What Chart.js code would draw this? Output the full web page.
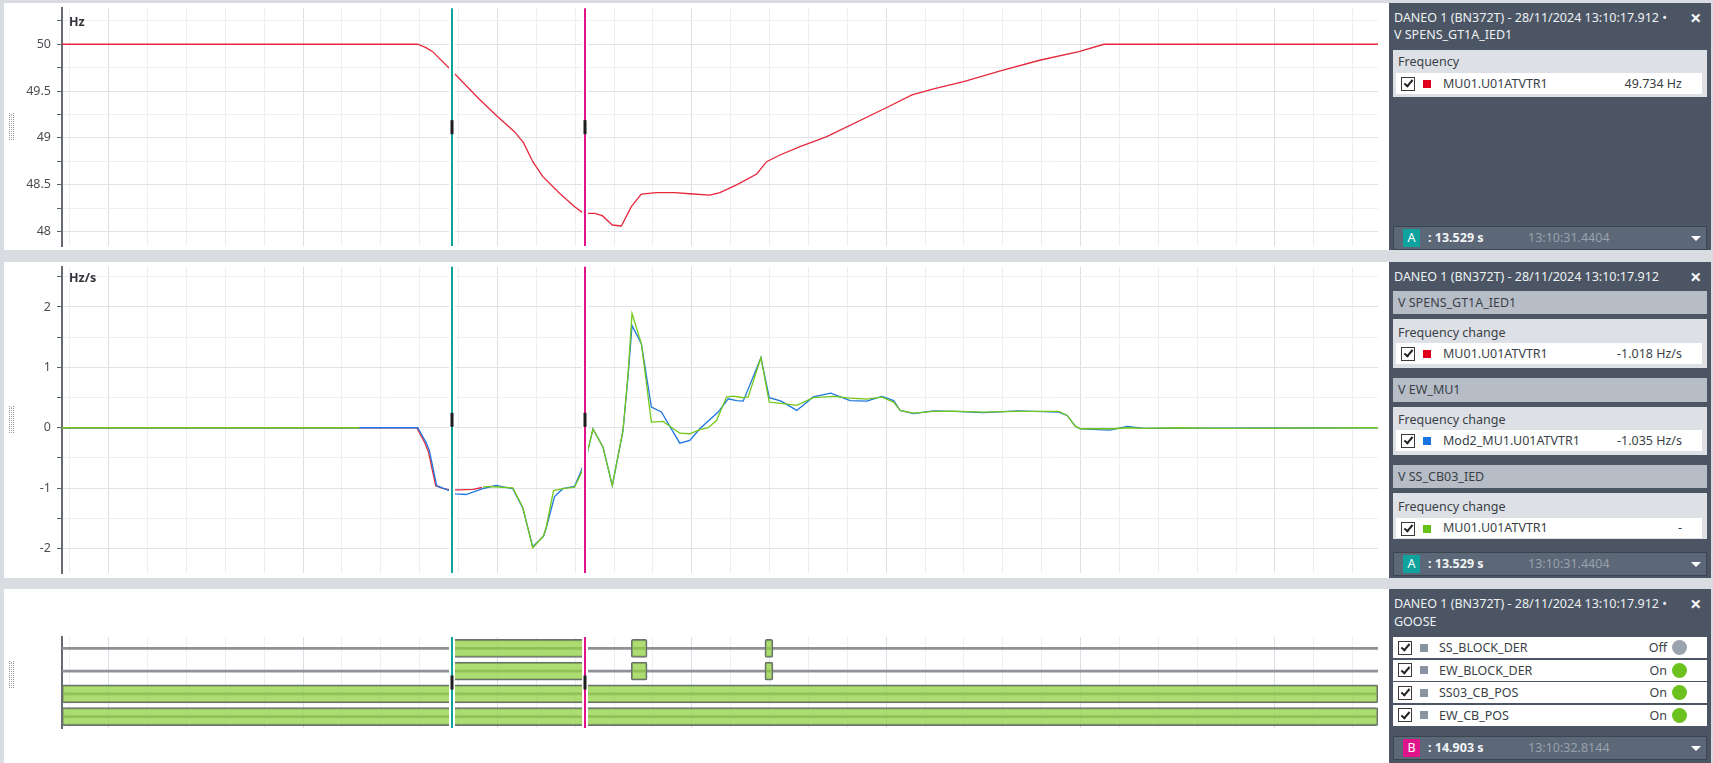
<!DOCTYPE html>
<html>
<head>
<meta charset="utf-8">
<title>DANEO frequency view</title>
<script src="https://cdn.jsdelivr.net/npm/chart.js@4.4.1/dist/chart.umd.min.js"></script>
<style>
  body { margin:0; width:1713px; height:763px; overflow:hidden; position:relative;
         background:#d9dce1; font-family:"Noto Sans", sans-serif; font-size:12.5px; }
  .panel { position:absolute; left:4px; width:1385px; background:#fff; }
  .panel canvas { position:absolute; left:0; top:0; }
  .unit { position:absolute; left:65px; font-weight:bold; color:#33363b; line-height:16px; }
  .grip { position:absolute; left:5px; width:3px; height:27px;
          border-left:1px dotted #8f949a; border-right:1px dotted #8f949a; }
  .grip::after { content:''; position:absolute; left:1px; top:1px; height:26px; border-left:1px dotted #a9adb3; }
  .side { position:absolute; left:1389px; width:322px; background:#4b5563; color:#eef1f4; }
  .title { position:absolute; left:5px; top:6px; line-height:17px; white-space:nowrap; }
  .close { position:absolute; left:301px; top:4px; font-size:20px; line-height:22px; font-weight:bold; color:#f4f6f8; }
  .hdr { position:absolute; left:4px; width:314px; height:23px; line-height:23px; padding-left:5px;
         box-sizing:border-box; background:#b6bdc7; color:#3a3f46; }
  .box { position:absolute; left:4px; width:314px; background:#dde0e5; }
  .lbl { position:absolute; left:5px; line-height:18px; color:#3a3f46; }
  .row { position:absolute; left:3px; width:306px; height:21px; line-height:21px; background:#fff; color:#3a3f46; }
  .grow { position:absolute; left:4px; width:314px; height:21px; line-height:21px; background:#fff; color:#3a3f46; }
  .cb { position:absolute; left:5px; top:3.5px; width:12px; height:12px; border:1px solid #3a3a3a; background:#fff; }
  .cb::after { content:''; position:absolute; left:3.5px; top:0.5px; width:3px; height:7px;
               border:solid #222; border-width:0 2px 2px 0; transform:rotate(40deg); }
  .sq { position:absolute; left:27px; top:6.5px; width:8px; height:8px; }
  .nm { position:absolute; left:47px; }
  .val { position:absolute; right:20px; }
  .state { position:absolute; right:40px; }
  .dot { position:absolute; left:279px; top:3px; width:15px; height:15px; border-radius:50%; }
  .cbar { position:absolute; left:4px; width:314px; height:24px; box-sizing:border-box;
          background:#5c6877; border:1px solid #3c4450; }
  .badge { position:absolute; left:9px; top:2px; width:17px; height:18px; line-height:18px;
           text-align:center; color:#fff; }
  .ct { position:absolute; left:34px; top:0; line-height:22px; font-weight:bold; color:#f3f5f7; }
  .cts { position:absolute; left:134px; top:0; line-height:22px; color:#98a1ad; }
  .tri { position:absolute; left:297px; top:9px; width:0; height:0;
         border-left:5px solid transparent; border-right:5px solid transparent; border-top:5px solid #fff; }
</style>
</head>
<body>

<div class="panel" style="top:3px;height:247px">
  <canvas id="freqChart" width="1385" height="247"></canvas>
  <div class="unit" style="top:11px">Hz</div>
  <div class="grip" style="top:110px"></div>
</div>

<div class="panel" style="top:262px;height:316px">
  <canvas id="rocofChart" width="1385" height="316"></canvas>
  <div class="unit" style="top:8px">Hz/s</div>
  <div class="grip" style="top:144px"></div>
</div>

<div class="panel" style="top:589px;height:174px">
  <canvas id="gooseChart" width="1385" height="174"></canvas>
  <div class="grip" style="top:72px"></div>
</div>

<div class="side" style="top:3px;height:247px">
  <div class="title">DANEO 1 (BN372T) - 28/11/2024 13:10:17.912 •<br>V SPENS_GT1A_IED1</div>
  <div class="close">×</div>
  <div class="box" style="top:47px;height:47px">
    <div class="lbl" style="top:3px">Frequency</div>
    <div class="row" style="top:23px"><span class="cb"></span><span class="sq" style="background:#e0001b"></span><span class="nm">MU01.U01ATVTR1</span><span class="val">49.734 Hz</span></div>
  </div>
  <div class="cbar" style="top:223px"><span class="badge" style="background:#10a39e">A</span><span class="ct">: 13.529 s</span><span class="cts">13:10:31.4404</span><span class="tri"></span></div>
</div>

<div class="side" style="top:262px;height:316px">
  <div class="title">DANEO 1 (BN372T) - 28/11/2024 13:10:17.912</div>
  <div class="close">×</div>
  <div class="hdr" style="top:29px">V SPENS_GT1A_IED1</div>
  <div class="box" style="top:57px;height:49px">
    <div class="lbl" style="top:5px">Frequency change</div>
    <div class="row" style="top:24px"><span class="cb"></span><span class="sq" style="background:#e0001b"></span><span class="nm">MU01.U01ATVTR1</span><span class="val">-1.018 Hz/s</span></div>
  </div>
  <div class="hdr" style="top:116px;height:24px;line-height:24px">V EW_MU1</div>
  <div class="box" style="top:145px;height:48px">
    <div class="lbl" style="top:4px">Frequency change</div>
    <div class="row" style="top:23px"><span class="cb"></span><span class="sq" style="background:#1874e0"></span><span class="nm">Mod2_MU1.U01ATVTR1</span><span class="val">-1.035 Hz/s</span></div>
  </div>
  <div class="hdr" style="top:203px">V SS_CB03_IED</div>
  <div class="box" style="top:231px;height:46px">
    <div class="lbl" style="top:5px">Frequency change</div>
    <div class="row" style="top:25px;height:20px;line-height:20px"><span class="cb"></span><span class="sq" style="background:#66c214"></span><span class="nm">MU01.U01ATVTR1</span><span class="val">-</span></div>
  </div>
  <div class="cbar" style="top:290px"><span class="badge" style="background:#10a39e">A</span><span class="ct">: 13.529 s</span><span class="cts">13:10:31.4404</span><span class="tri"></span></div>
</div>

<div class="side" style="top:589px;height:174px">
  <div class="title" style="line-height:18px">DANEO 1 (BN372T) - 28/11/2024 13:10:17.912 •<br>GOOSE</div>
  <div class="close">×</div>
  <div id="gooseList"></div>
  <div class="cbar" style="top:147px"><span class="badge" style="background:#e0148a">B</span><span class="ct">: 14.903 s</span><span class="cts">13:10:32.8144</span><span class="tri"></span></div>
</div>

<script>
// time range of the view (s) and the two cursors A / B
const T_MIN = 9.52;
const T_MAX = 23.06;
const cursorTimes = [13.529, 14.903];
const cursorColors = ["#10a39e", "#e0148a"];

// Frequency, MU01.U01ATVTR1 (Hz)
const freqT = [9.52, 13.18, 13.265, 13.333, 13.505, 13.814, 14.003, 14.175, 14.268, 14.364, 14.467,
  14.639, 14.794, 14.873, 14.914, 15.0, 15.079, 15.182, 15.275, 15.378, 15.48, 15.636, 15.825,
  16.014, 16.186, 16.289, 16.461, 16.667, 16.77, 16.907, 17.113, 17.389, 17.99, 18.265, 18.488,
  18.797, 19.175, 19.588, 19.983, 20.24, 23.06];
const freqV = [50, 50, 49.964, 49.921, 49.744, 49.413, 49.227, 49.067, 48.95, 48.746, 48.586,
  48.409, 48.266, 48.206, 48.195, 48.195, 48.17, 48.07, 48.06, 48.266, 48.4, 48.415, 48.415,
  48.401, 48.39, 48.415, 48.498, 48.615, 48.746, 48.818, 48.907, 49.013, 49.317, 49.459, 49.523,
  49.601, 49.715, 49.832, 49.921, 50.0, 50];

// Frequency change (Hz/s), SPENS_GT1A_IED1 - red
const redT = [9.52, 13.17, 13.25, 13.29, 13.365, 13.43, 13.505, 13.6, 13.75, 13.84];
const redV = [0, 0, -0.24, -0.40, -0.96, -1.0, -1.03, -1.03, -1.02, -0.99];

// Frequency change (Hz/s), EW_MU1 - blue
const blueT = [9.52, 13.18, 13.265, 13.3, 13.375, 13.437, 13.505, 13.567, 13.677, 13.849, 13.986,
  14.158, 14.261, 14.363, 14.474, 14.502, 14.588, 14.673, 14.794, 14.863, 14.914, 14.983, 15.086,
  15.182, 15.292, 15.344, 15.385, 15.481, 15.584, 15.687, 15.876, 15.979, 16.082, 16.271, 16.374,
  16.461, 16.529, 16.711, 16.797, 16.92, 17.079, 17.25, 17.43, 17.629, 17.801, 17.956, 18.076,
  18.144, 18.282, 18.488, 18.694, 19.003, 19.347, 19.776, 19.862, 19.948, 20.0, 20.3, 20.48,
  20.65, 23.06];
const blueV = [0, 0, -0.24, -0.38, -0.96, -1.0, -1.04, -1.095, -1.106, -1.01, -0.957,
  -1.01, -1.33, -1.97, -1.8, -1.66, -1.14, -1.01, -0.97, -0.708, -0.49, -0.02, -0.32,
  -0.96, -0.05, 0.85, 1.69, 1.39, 0.342, 0.26, -0.255, -0.21, -0.017, 0.26, 0.48,
  0.45, 0.44, 1.16, 0.497, 0.44, 0.287, 0.51, 0.574, 0.45, 0.44, 0.52, 0.45,
  0.287, 0.235, 0.28, 0.27, 0.25, 0.28, 0.26, 0.204, 0.02, -0.02, -0.04, 0.02,
  -0.01, 0];

// Frequency change (Hz/s), SS_CB03_IED - green (no samples between 12.6 s and 13.85 s)
const greenT = [9.52, 12.58, 12.6, 13.85, 13.918, 14.158, 14.261, 14.363, 14.474, 14.502, 14.577,
  14.673, 14.794, 14.863, 14.914, 14.983, 15.086, 15.182, 15.292, 15.344, 15.385, 15.481, 15.584,
  15.704, 15.876, 15.979, 16.082, 16.168, 16.254, 16.357, 16.426, 16.529, 16.58, 16.711, 16.797,
  16.942, 17.079, 17.25, 17.457, 17.629, 17.801, 17.956, 18.076, 18.144, 18.282, 18.488, 18.694,
  19.003, 19.347, 19.776, 19.862, 19.948, 20.0, 20.34, 20.48, 20.65, 20.99, 21.46, 23.06];
const greenV = [0, 0, null, -0.985, -0.973, -0.995, -1.317, -1.99, -1.79, -1.648, -1.04,
  -1.01, -0.985, -0.75, -0.487, -0.017, -0.322, -0.957, -0.045, 0.896, 1.89, 1.393, 0.093,
  0.104, -0.09, -0.1, -0.03, 0, 0.12, 0.507, 0.524, 0.497, 0.51, 1.16, 0.425,
  0.398, 0.37, 0.497, 0.519, 0.49, 0.474, 0.507, 0.425, 0.287, 0.242, 0.27, 0.275,
  0.259, 0.27, 0.27, 0.204, 0.022, -0.017, -0.017, 0, -0.01, 0, -0.01, 0];

// GOOSE signals and their "On" intervals (s)
const gooseRows = ["SS_BLOCK_DER", "EW_BLOCK_DER", "SS03_CB_POS", "EW_CB_POS"];
const gooseStates = ["Off", "On", "On", "On"];
const onRow   = [0, 0, 0, 1, 1, 1, 2, 3];
const onStart = [13.53, 15.376, 16.752, 13.53, 15.376, 16.752, T_MIN, T_MIN];
const onEnd   = [14.90, 15.54, 16.835, 14.90, 15.54, 16.835, T_MAX, T_MAX];

// -------------------------------
// helpers
// -------------------------------
const pts = (t, v) => t.map((x, i) => ({ x, y: v[i] }));
const isMultiple = (v, step) => Math.abs(v / step - Math.round(v / step)) < 1e-6;

const gridTimes = [];
for (let i = Math.ceil(T_MIN / 0.4); i * 0.4 <= T_MAX; i++) gridTimes.push(+(i * 0.4).toFixed(1));

Chart.defaults.font.family = '"Noto Sans", sans-serif';
Chart.defaults.font.size = 12.5;

function timeAxis() {
  return {
    type: "linear",
    min: T_MIN,
    max: T_MAX,
    afterBuildTicks: (s) => { s.ticks = gridTimes.map((value) => ({ value })); },
    ticks: { display: false },
    grid: {
      drawTicks: false,
      color: (c) => (c.tick && isMultiple(c.tick.value, 2) ? "#dcdfe4" : "#eceef1"),
    },
    border: { display: false },
  };
}

function valueAxis(min, max, step, labelStep) {
  return {
    min,
    max,
    ticks: {
      stepSize: step,
      includeBounds: false,
      padding: 6,
      color: "#4a4d52",
      callback: (v) => (isMultiple(v, labelStep) ? String(+v.toFixed(2)) : ""),
    },
    grid: {
      tickLength: 5,
      tickColor: "#5f636a",
      color: (c) => (c.tick && isMultiple(c.tick.value, labelStep) ? "#dfe2e6" : "#eef0f2"),
    },
    border: { color: "#666a71", width: 2 },
    afterFit: (s) => { s.width = 58; s.paddingTop = 0; s.paddingBottom = 0; },
  };
}

// cursor lines A / B with the small black handle in the middle
const cursorPlugin = {
  id: "cursors",
  afterDatasetsDraw(chart) {
    const { ctx, chartArea: a, scales: { x } } = chart;
    const mid = (a.top + a.bottom) / 2;
    cursorTimes.forEach((t, i) => {
      const px = Math.round(x.getPixelForValue(t));
      ctx.save();
      ctx.fillStyle = "#ffffff";
      ctx.fillRect(px - 3, a.top, 6, a.bottom - a.top);
      ctx.fillStyle = cursorColors[i];
      ctx.fillRect(px - 1, a.top, 2, a.bottom - a.top);
      ctx.fillStyle = "#1e1e20";
      ctx.fillRect(px - 1.5, mid - 7, 3, 14);
      ctx.restore();
    });
  },
};

const baseOptions = (padding) => ({
  responsive: false,
  animation: false,
  layout: { padding },
  plugins: { legend: { display: false }, tooltip: { enabled: false } },
  elements: { point: { radius: 0 }, line: { borderWidth: 1.3, tension: 0 } },
});

// -------------------------------
// Frequency
// -------------------------------
new Chart(document.getElementById("freqChart"), {
  type: "line",
  data: {
    datasets: [{ data: pts(freqT, freqV), borderColor: "#e5283c" }],
  },
  options: {
    ...baseOptions({ top: 5.3, right: 11, bottom: 4, left: 0 }),
    scales: { x: timeAxis(), y: valueAxis(47.846, 50.384, 0.25, 0.5) },
  },
  plugins: [cursorPlugin],
});

// -------------------------------
// Frequency change
// -------------------------------
new Chart(document.getElementById("rocofChart"), {
  type: "line",
  data: {
    datasets: [
      { data: pts(greenT, greenV), borderColor: "#74c81c" },
      { data: pts(blueT, blueV), borderColor: "#1f78e0" },
      { data: pts(redT, redV), borderColor: "#e5283c" },
    ],
  },
  options: {
    ...baseOptions({ top: 4.7, right: 11, bottom: 5, left: 0 }),
    scales: { x: timeAxis(), y: valueAxis(-2.406, 2.667, 0.5, 1) },
  },
  plugins: [cursorPlugin],
});

// -------------------------------
// GOOSE states
// -------------------------------
new Chart(document.getElementById("gooseChart"), {
  type: "bar",
  data: {
    labels: gooseRows,
    datasets: [
      {
        data: onRow.map((r, i) => ({ x: [onStart[i], onEnd[i]], y: gooseRows[r] })),
        backgroundColor: "rgba(146,208,68,0.75)",
        borderColor: "#6c7075",
        borderWidth: 1.5,
        borderSkipped: false,
        borderRadius: 2,
        barThickness: 18,
        grouped: false,
      },
      {
        data: gooseRows.map((r) => ({ x: [T_MIN, T_MAX], y: r })),
        backgroundColor: "#8e9196",
        borderWidth: 0,
        barThickness: 2,
        grouped: false,
      },
    ],
  },
  options: {
    ...baseOptions({ top: 48, right: 11, bottom: 35, left: 0 }),
    indexAxis: "y",
    scales: {
      x: timeAxis(),
      y: {
        type: "category",
        ticks: { display: false },
        grid: { display: false },
        border: { color: "#666a71", width: 2 },
        afterFit: (s) => { s.width = 58; s.paddingTop = 0; s.paddingBottom = 0; },
      },
    },
  },
  plugins: [cursorPlugin],
});

// GOOSE legend rows in the side panel
const list = document.getElementById("gooseList");
const rowTops = [48, 70.5, 93, 115.5];
gooseRows.forEach((name, i) => {
  const on = gooseStates[i] === "On";
  const row = document.createElement("div");
  row.className = "grow";
  row.style.top = rowTops[i] + "px";
  row.innerHTML =
    '<span class="cb"></span><span class="sq" style="background:#8a94a0"></span>' +
    '<span class="nm" style="left:46px">' + name + "</span>" +
    '<span class="state">' + gooseStates[i] + "</span>" +
    '<span class="dot" style="background:' + (on ? "#6cc11e" : "#9aa3ae") + '"></span>';
  list.appendChild(row);
});
</script>
</body>
</html>
